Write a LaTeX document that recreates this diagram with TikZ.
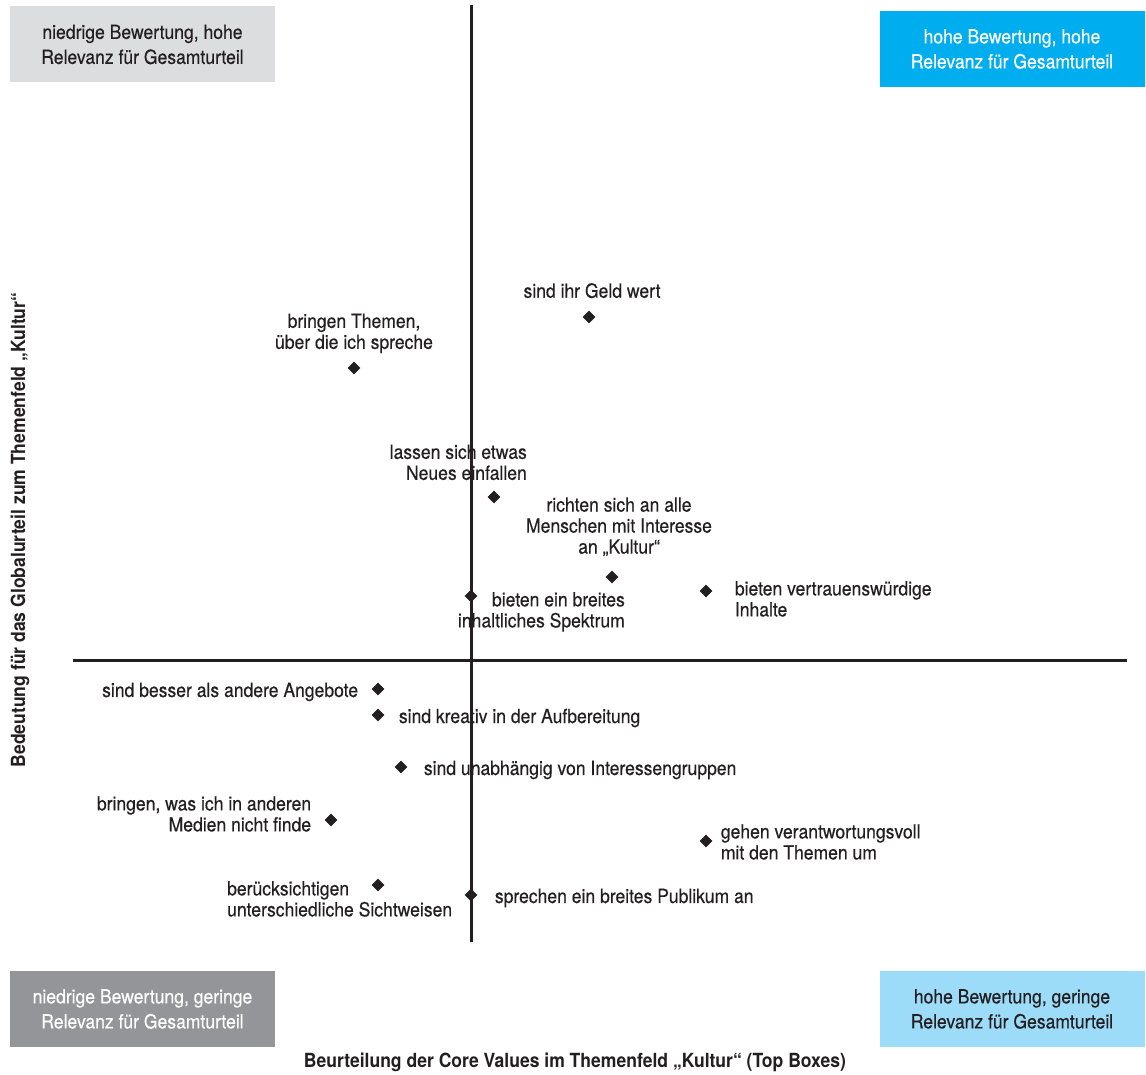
\documentclass[tikz,border=0pt]{standalone}
\usepackage{fontspec}
\setmainfont{TeX Gyre Heros}[FakeStretch=0.9, UprightFeatures={FakeBold=0.35}]
\usetikzlibrary{positioning, shapes.geometric}
\definecolor{ink}{HTML}{231F20}
\definecolor{greylight}{HTML}{DCDDDF}
\definecolor{greydark}{HTML}{939598}
\definecolor{bluehigh}{HTML}{00AEEF}
\definecolor{bluelow}{HTML}{9DDCF9}

\begin{document}
\begin{tikzpicture}[x=1pt, y=1pt, node distance=12pt,
  every node/.style={font=\fontsize{19.5}{21}\selectfont, text=ink},
  value/.style={diamond, fill=ink, inner sep=0pt, minimum size=13pt},
  lbl/.style={inner sep=0pt, align=center},
  quad/.style={minimum width=265pt, minimum height=76pt, inner sep=0pt, align=center,
    font=\fontsize{19.5}{25}\selectfont},
  axis/.style={line width=3pt, draw=ink}]

  \useasboundingbox (0,0) rectangle (1146,1074);

% define the quadrant boxes
  \node[quad, fill=greylight]              (lohi) at (142.5,1029.5) {niedrige Bewertung, hohe\\Relevanz für Gesamturteil};
  \node[quad, fill=bluehigh, text=white]   (hihi) at (1012,1025)    {hohe Bewertung, hohe\\Relevanz für Gesamturteil};
  \node[quad, fill=greydark, text=white]   (lolo) at (142.5,65)     {niedrige Bewertung, geringe\\Relevanz für Gesamturteil};
  \node[quad, fill=bluelow]                (hilo) at (1012,65)      {hohe Bewertung, geringe\\Relevanz für Gesamturteil};

% define the axes
  \coordinate (ytop) at (471,1069);
  \coordinate (ybot) at (471,132);
  \coordinate (xlft) at (73,413);
  \coordinate (xrgt) at (1127,413);
  \draw[axis] (ytop) -- (ybot);
  \draw[axis] (xlft) -- (xrgt);

  \node[font=\fontsize{19.5}{21}\selectfont\bfseries] (xlabel) at (575,12)
    {Beurteilung der Core Values im Themenfeld „Kultur“ (Top Boxes)};
  \node[font=\fontsize{19.5}{21}\selectfont\bfseries, rotate=90] (ylabel) at (20,544)
    {Bedeutung für das Globalurteil zum Themenfeld „Kultur“};

% define the values
  \node[value] (geld)   at (589,757) {};
  \node[value] (themen) at (354,706) {};
  \node[value] (neues)  at (494,577) {};
  \node[value] (alle)   at (612,497) {};
  \node[value] (breit)  at (471,478) {};
  \node[value] (trust)  at (706,483) {};
  \node[value] (besser) at (378,385) {};
  \node[value] (kreativ) at (378,359) {};
  \node[value] (unabh)  at (401,307) {};
  \node[value] (medien) at (331,254) {};
  \node[value] (verant) at (706,233) {};
  \node[value] (sicht)  at (378,189) {};
  \node[value] (publik) at (471,179) {};

% define the labels
  \node[lbl, above=12pt of geld, xshift=3pt]   {sind ihr Geld wert};
  \node[lbl, above=8pt of themen]              {bringen Themen,\\über die ich spreche};
  \node[lbl, align=right, above=10pt of neues, anchor=south east, xshift=33pt]
    {lassen sich etwas\\Neues einfallen};
  \node[lbl, above=14pt of alle, xshift=7pt]
    {richten sich an alle\\Menschen mit Interesse\\an „Kultur“};
  \node[lbl, align=right, anchor=north east, xshift=154pt, yshift=4pt] at (breit)
    {bieten ein breites\\inhaltliches Spektrum};
  \node[lbl, align=left, right=22pt of trust, yshift=-8pt]
    {bieten vertrauenswürdige\\Inhalte};
  \node[lbl, left=13pt of besser, yshift=-3pt]   {sind besser als andere Angebote};
  \node[lbl, right=14pt of kreativ, yshift=-3pt] {sind kreativ in der Aufbereitung};
  \node[lbl, right=16pt of unabh, yshift=-3pt]   {sind unabhängig von Interessengruppen};
  \node[lbl, align=right, left=13pt of medien, yshift=6pt]
    {bringen, was ich in anderen\\Medien nicht finde};
  \node[lbl, align=left, right=8pt of verant, yshift=-1pt]
    {gehen verantwortungsvoll\\mit den Themen um};
  \node[lbl, align=left, anchor=north west, xshift=-151pt, yshift=4pt] at (sicht)
    {berücksichtigen\\unterschiedliche Sichtweisen};
  \node[lbl, right=17pt of publik, yshift=-3pt]  {sprechen ein breites Publikum an};

\end{tikzpicture}
\end{document}
